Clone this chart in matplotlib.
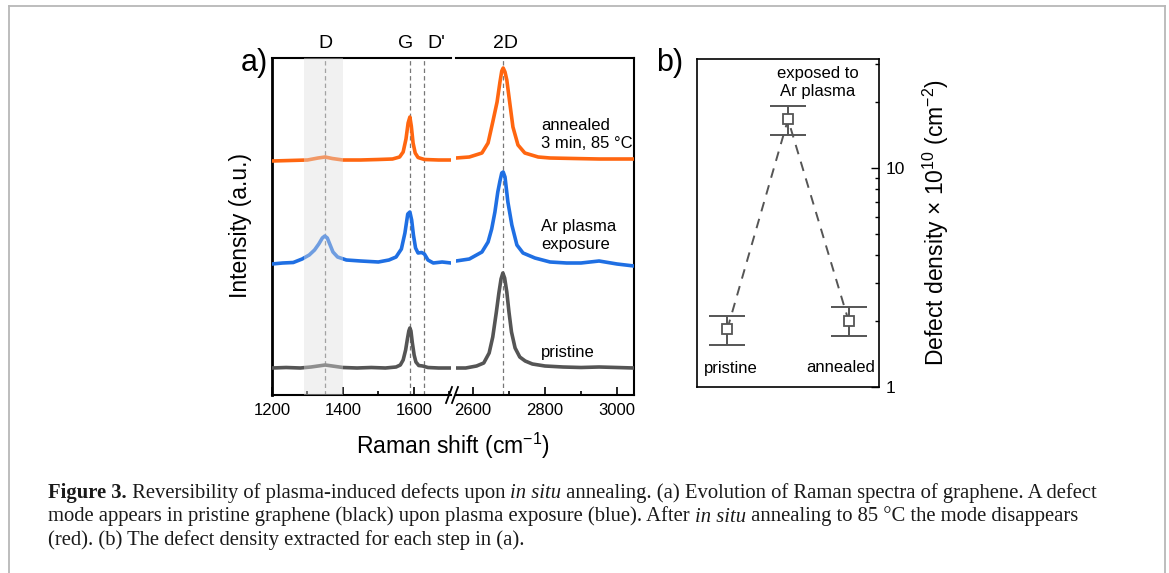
import matplotlib
matplotlib.use("Agg")
import matplotlib.pyplot as plt
from matplotlib.lines import Line2D
import numpy as np

plt.rcParams['font.family'] = ['Liberation Sans', 'DejaVu Sans']
plt.rcParams['mathtext.fontset'] = 'custom'
plt.rcParams['mathtext.rm'] = 'Liberation Sans'
plt.rcParams['mathtext.it'] = 'Liberation Sans:italic'

# ---------------- data: panel a (Raman spectra, offset intensities, a.u.) ----------------
pristine_left_x = [1200, 1240, 1280, 1310, 1330, 1350, 1370, 1400, 1440, 1480, 1520, 1550, 1562,
                   1570, 1577, 1582, 1586, 1589, 1592, 1596, 1601, 1606, 1614, 1625, 1640, 1670, 1705]
pristine_left_y = [27, 27.5, 27, 28, 29, 30, 29, 27.5, 27, 27.5, 27, 28, 30,
                   35, 45, 56, 64, 67, 64, 52, 40, 33, 29.5, 29, 27.5, 27, 27]
pristine_right_x = [2553, 2580, 2610, 2630, 2645, 2655, 2665, 2672, 2678, 2683, 2688, 2694, 2700,
                    2707, 2717, 2730, 2745, 2765, 2800, 2850, 2900, 2950, 3000, 3047]
pristine_right_y = [27, 27, 29, 32, 42, 58, 83, 102, 116, 122, 117, 103, 83,
                    63, 47, 38, 34, 31, 29, 28, 27.5, 28, 27.5, 27]

plasma_left_x = [1200, 1230, 1260, 1285, 1305, 1320, 1332, 1342, 1349, 1356, 1364, 1372, 1385, 1410,
                 1450, 1500, 1530, 1550, 1565, 1575, 1583, 1589, 1594, 1599, 1605, 1612, 1622, 1630,
                 1640, 1655, 1680, 1705]
plasma_left_y = [131, 132, 132.5, 136, 140, 145, 151, 157, 159, 157, 150, 143, 138, 135,
                 134, 133, 135, 138, 146, 162, 181, 183, 175, 160, 147, 142, 142.5, 141,
                 135, 132, 133, 132]
plasma_right_x = [2553, 2590, 2625, 2642, 2652, 2661, 2669, 2675, 2680, 2684, 2689, 2697, 2708,
                  2722, 2739, 2772, 2814, 2860, 2900, 2950, 3000, 3047]
plasma_right_y = [134, 136, 143, 153, 166, 183, 203, 214, 222, 223, 218, 193, 170,
                  150, 142, 137, 133, 132, 132, 134, 131, 129]

annealed_left_x = [1200, 1250, 1300, 1330, 1350, 1370, 1400, 1450, 1500, 1540, 1560, 1570, 1578,
                   1584, 1589, 1593, 1598, 1604, 1612, 1630, 1670, 1705]
annealed_left_y = [234, 234.5, 235, 237, 238, 236.5, 235, 235, 235.5, 236, 238, 243, 256,
                   272, 278, 269, 252, 242, 237.5, 235.5, 235, 235]
annealed_right_x = [2553, 2590, 2625, 2642, 2655, 2667, 2675, 2680, 2684, 2689, 2694, 2703, 2711,
                    2725, 2744, 2781, 2814, 2880, 2950, 3000, 3047]
annealed_right_y = [237, 238, 242, 252, 273, 293, 313, 324, 327, 323, 315, 290, 268,
                    250, 242, 238, 237, 236.5, 236, 236, 236]

mode_names = ['D', 'G', "D'", '2D']
mode_pos = [1350, 1589, 1628, 2683]
d_band = (1290, 1400)

left_ticks_major = [1200, 1400, 1600]
left_ticks_minor = [1300, 1500, 1700]
right_ticks_major = [2600, 2800, 3000]
right_ticks_minor = [2700, 2900]

# ---------------- data: panel b (defect density, x 10^10 cm^-2) ----------------
steps = ['pristine', 'exposed to\nAr plasma', 'annealed']
density = [1.84, 16.7, 2.0]
density_err_low = [1.56, 14.1, 1.71]
density_err_high = [2.11, 19.2, 2.32]

# ---------------- figure ----------------
W, H = 1169, 573
fig = plt.figure(figsize=(W / 100, H / 100), dpi=100)
fig.patch.set_facecolor('white')

def fx(px):
    return px / W

def fy(py):
    return 1 - py / H

def axrect(l, t, r, b):
    return [fx(l), fy(b), fx(r) - fx(l), fy(t) - fy(b)]

ax1 = fig.add_axes(axrect(272, 58, 451, 395))
ax2 = fig.add_axes(axrect(456, 58, 634, 395))

c_pr, c_pl, c_an = '#555555', '#1f6fe3', '#ff6610'
lw = 2.6
for ax, sets in [(ax1, [(pristine_left_x, pristine_left_y, c_pr), (plasma_left_x, plasma_left_y, c_pl),
                        (annealed_left_x, annealed_left_y, c_an)]),
                 (ax2, [(pristine_right_x, pristine_right_y, c_pr), (plasma_right_x, plasma_right_y, c_pl),
                        (annealed_right_x, annealed_right_y, c_an)])]:
    for xs, ys, c in sets:
        ax.plot(xs, ys, color=c, lw=lw, solid_joinstyle='round', zorder=3)
    ax.set_ylim(0, 337)
    ax.set_yticks([])
    ax.tick_params(axis='x', which='both', direction='in', top=False, labelsize=12, pad=6)
    ax.tick_params(axis='x', which='major', length=5.5, width=1.2)
    ax.tick_params(axis='x', which='minor', length=2.8, width=1.2)
    for s in ax.spines.values():
        s.set_linewidth(1.5)

ax1.set_xlim(1200, 1705)
ax2.set_xlim(2553, 3047)
ax1.set_xticks(left_ticks_major)
ax1.set_xticks(left_ticks_minor, minor=True)
ax2.set_xticks(right_ticks_major)
ax2.set_xticks(right_ticks_minor, minor=True)
ax1.spines['right'].set_visible(False)
ax2.spines['left'].set_visible(False)
ax1.spines['left'].set_linewidth(2)

# shaded D band (drawn over the curves, semi transparent)
ax1.axvspan(d_band[0], d_band[1], color='#dedede', alpha=0.42, lw=0, zorder=4)

# dashed mode lines and labels
for name, pos in zip(mode_names, mode_pos):
    ax = ax1 if pos < 2000 else ax2
    ax.axvline(pos, color='#777777', lw=0.9, ls=(0, (3.5, 2.5)), zorder=2)
label_px = {'D': 325, 'G': 406, "D'": 436, '2D': 505}
for name in mode_names:
    fig.text(fx(label_px[name]), fy(43), name, ha='center', va='center', fontsize=14)

# break marks
for x0 in (446, 452):
    fig.add_artist(Line2D([fx(x0), fx(x0 + 6)], [fy(403), fy(387)], color='black', lw=1.3))

fig.text(fx(240), fy(225), 'Intensity (a.u.)', rotation=90, ha='center', va='center', fontsize=16.5)
fig.text(fx(453), fy(446), 'Raman shift (cm$^{-1}$)', ha='center', va='center', fontsize=16.5)
fig.text(fx(541), fy(134.5), 'annealed\n3 min, 85 °C', ha='left', va='center', fontsize=12, linespacing=1.25)
fig.text(fx(541), fy(235), 'Ar plasma\nexposure', ha='left', va='center', fontsize=12, linespacing=1.25)
fig.text(fx(541), fy(353), 'pristine', ha='left', va='center', fontsize=12)
fig.text(fx(254), fy(63), 'a)', ha='center', va='center', fontsize=22)

# ---------------- panel b ----------------
axb = fig.add_axes(axrect(697, 59, 879, 387))
xpos = np.arange(1, len(steps) + 1)
dens = np.array(density)
yerr = np.array([dens - np.array(density_err_low), np.array(density_err_high) - dens])
gray = '#555555'
axb.plot(xpos, dens, color=gray, lw=1.4, ls=(0, (5, 4)), zorder=2)
axb.errorbar(xpos, dens, yerr=yerr, fmt='none', ecolor=gray, elinewidth=1.4, capsize=13,
             capthick=1.4, zorder=3)
axb.plot(xpos, dens, ls='none', marker='s', ms=7, mfc='white', mec=gray, mew=1.3, zorder=4)
axb.set_yscale('log')
axb.set_ylim(1, 31.5)
axb.set_xlim(0.5, 3.5)
axb.set_xticks([])
axb.yaxis.tick_right()
axb.yaxis.set_label_position('right')
axb.set_yticks([1, 10])
axb.set_yticklabels(['1', '10'])
axb.tick_params(axis='y', which='both', direction='in', left=False, right=True, labelsize=12.5, pad=5)
axb.tick_params(axis='y', which='major', length=5.5, width=1.0)
axb.tick_params(axis='y', which='minor', length=3, width=1.0)
axb.yaxis.set_minor_formatter(matplotlib.ticker.NullFormatter())
for s in axb.spines.values():
    s.set_linewidth(1.2)
axb.set_ylabel('Defect density $\\times$ 10$^{10}$ (cm$^{-2}$)', fontsize=16.5, labelpad=11)

fig.text(fx(818), fy(82.5), steps[1], ha='center', va='center', fontsize=12, linespacing=1.2)
fig.text(fx(731), fy(368), steps[0], ha='center', va='center', fontsize=12)
fig.text(fx(841), fy(368), steps[2], ha='center', va='center', fontsize=12)
fig.text(fx(670), fy(63), 'b)', ha='center', va='center', fontsize=22)

# ---------------- outer frame ----------------
fc = '#b8b8b8'
fig.add_artist(Line2D([fx(8.5), fx(8.5)], [fy(6), 0], color=fc, lw=1.3))
fig.add_artist(Line2D([fx(8.5), fx(1165)], [fy(6), fy(6)], color=fc, lw=1.3))
fig.add_artist(Line2D([fx(1165), fx(1165)], [fy(6), 0], color=fc, lw=1.3))

# ---------------- caption ----------------
cap_lines = [
    [("Figure 3.", 'bold', 'normal'), (" Reversibility of plasma-induced defects upon ", 'normal', 'normal'),
     ("in situ", 'normal', 'italic'),
     (" annealing. (a) Evolution of Raman spectra of graphene. A defect", 'normal', 'normal')],
    [("mode appears in pristine graphene (black) upon plasma exposure (blue). After ", 'normal', 'normal'),
     ("in situ", 'normal', 'italic'), (" annealing to 85 °C the mode disappears", 'normal', 'normal')],
    [("(red). (b) The defect density extracted for each step in (a).", 'normal', 'normal')],
]
cap_base = [498, 521.5, 545]
renderer = fig.canvas.get_renderer()

def draw_line(parts, y, size, draw=True):
    x = 48
    objs = []
    for txt, wt, st in parts:
        t = fig.text(fx(x), fy(y), txt, ha='left', va='baseline', fontsize=size,
                     family=['Liberation Serif', 'DejaVu Serif'], fontweight=wt, fontstyle=st,
                     color='#1a1a1a')
        bb = t.get_window_extent(renderer)
        x += bb.width
        objs.append(t)
    if not draw:
        for o in objs:
            o.remove()
    return x - 48

w0 = draw_line(cap_lines[0], cap_base[0], 14, draw=False)
size = 14 * 1055 / w0
for parts, y in zip(cap_lines, cap_base):
    draw_line(parts, y, size)

fig.savefig('out.png', dpi=100, facecolor='white')
